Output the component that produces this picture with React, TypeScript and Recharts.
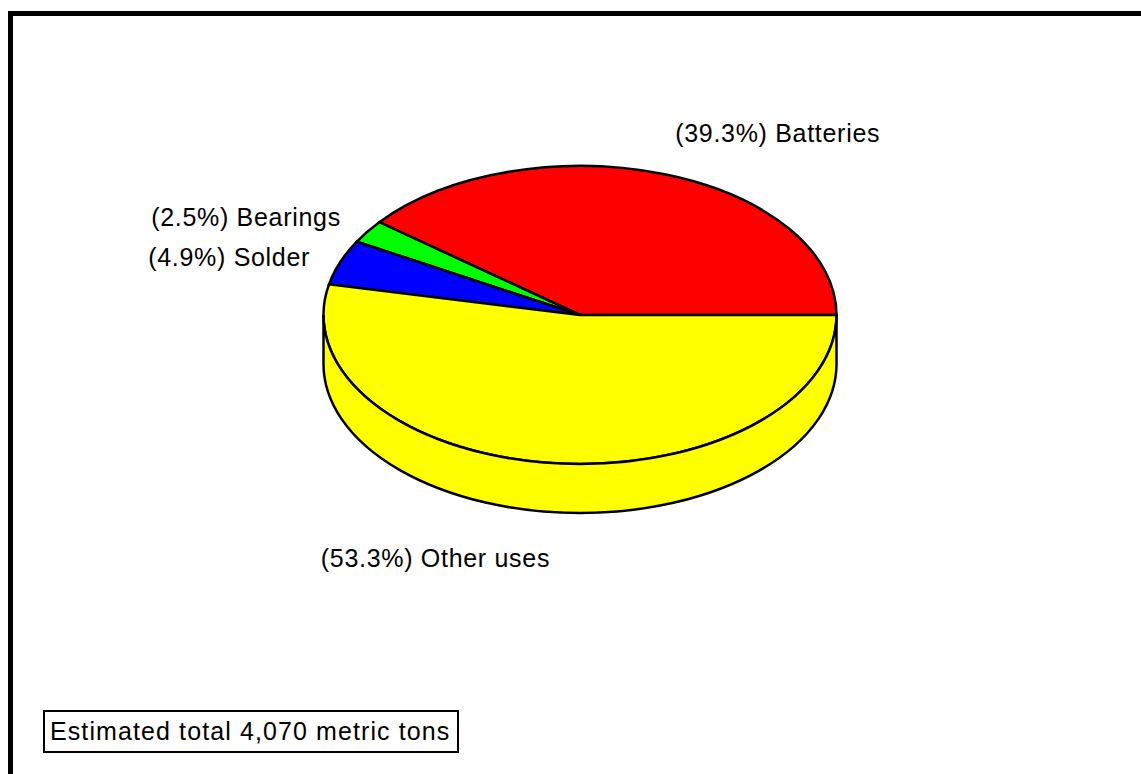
import { PieChart, Pie, Cell } from "recharts";

// lead end-use shares, percent
const CATEGORIES = ["Batteries", "Bearings", "Solder", "Other uses"];
const SHARES = [39.3, 2.5, 4.9, 53.3];
const COLORS = ["#ff0000", "#00ff00", "#0000ff", "#ffff00"];
const TOTAL_NOTE = "Estimated total 4,070 metric tons";

const W = 1141;
const H = 774;
const CX = 580;
const CY = 315;
const RADIUS = 256.5;
const TILT = 149 / 256.5; // vertical squash of the pie top
const DEPTH = 49; // height of the 3d wall
const RAD = Math.PI / 180;
const FONT = "'Liberation Sans', Arial, sans-serif";

const data = CATEGORIES.map((name, i) => ({ name, value: SHARES[i] }));

function wallPath(cx: number, cy: number, rx: number, ry: number, a1: number, a2: number) {
  const p = (a: number, dy = 0) =>
    `${cx + rx * Math.cos(a * RAD)},${cy - ry * Math.sin(a * RAD) + dy}`;
  const m = (a1 + a2) / 2;
  return (
    `M${p(a1)} A${rx},${ry} 0 0 0 ${p(m)} A${rx},${ry} 0 0 0 ${p(a2)} ` +
    `L${p(a2, DEPTH)} A${rx},${ry} 0 0 1 ${p(m, DEPTH)} A${rx},${ry} 0 0 1 ${p(a1, DEPTH)} Z`
  );
}

function renderLabel(props: any) {
  const { cx, cy, outerRadius, startAngle, endAngle, midAngle, index, name, value } = props;
  const rx = outerRadius;
  const ry = outerRadius * TILT;
  const a1 = Math.max(startAngle, 180);
  const a2 = Math.min(endAngle, 360);
  const cos = Math.cos(midAngle * RAD);
  const sin = Math.sin(midAngle * RAD);
  const lx = cx + rx * cos + 32 * cos;
  const ly = cy - ry * sin - 46 * sin * Math.abs(sin) + (sin < 0 ? DEPTH : 0);
  return (
    <g key={`lbl-${index}`}>
      {a2 > a1 && (
        <path d={wallPath(cx, cy, rx, ry, a1, a2)} fill={COLORS[index]} stroke="#000" strokeWidth={2.5} />
      )}
      <text
        x={lx}
        y={ly}
        textAnchor={cos >= 0 ? "start" : "end"}
        dominantBaseline="central"
        fill="#000"
        fontFamily={FONT}
        fontSize={25}
        letterSpacing={0.7}
      >
        {`(${Number(value).toFixed(1)}%) ${name}`}
      </text>
    </g>
  );
}

export default function App() {
  return (
    <div
      className="lead-chart"
      style={{ position: "absolute", left: 0, top: 0, width: W, height: H, overflow: "hidden", background: "#fff" }}
    >
      <style>{`
        .lead-chart path.recharts-sector {
          transform-origin: ${CX}px ${CY}px;
          transform: scaleY(${TILT});
          vector-effect: non-scaling-stroke;
        }
      `}</style>
      <div
        style={{
          position: "absolute", left: 8, top: 11, width: W + 20, height: H + 20,
          borderTop: "5px solid #000", borderLeft: "5px solid #000",
        }}
      />
      <PieChart
        width={W}
        height={H}
        margin={{ top: 0, right: 0, bottom: 0, left: 0 }}
        style={{ position: "absolute", left: 0, top: 0 }}
      >
        <Pie
          data={data}
          dataKey="value"
          nameKey="name"
          cx={CX}
          cy={CY}
          innerRadius={0}
          outerRadius={RADIUS}
          startAngle={0}
          endAngle={360}
          stroke="#000"
          strokeWidth={2.5}
          label={renderLabel}
          labelLine={false}
          isAnimationActive={false}
        >
          {data.map((d, i) => <Cell key={d.name} fill={COLORS[i]} />)}
        </Pie>
      </PieChart>
      <div
        style={{
          position: "absolute", left: 43, top: 710, width: 407, height: 39,
          border: "2px solid #000", fontFamily: FONT, fontSize: 25, letterSpacing: 1.1,
          lineHeight: "39px", paddingLeft: 5, boxSizing: "content-box", whiteSpace: "nowrap",
        }}
      >
        {TOTAL_NOTE}
      </div>
    </div>
  );
}
